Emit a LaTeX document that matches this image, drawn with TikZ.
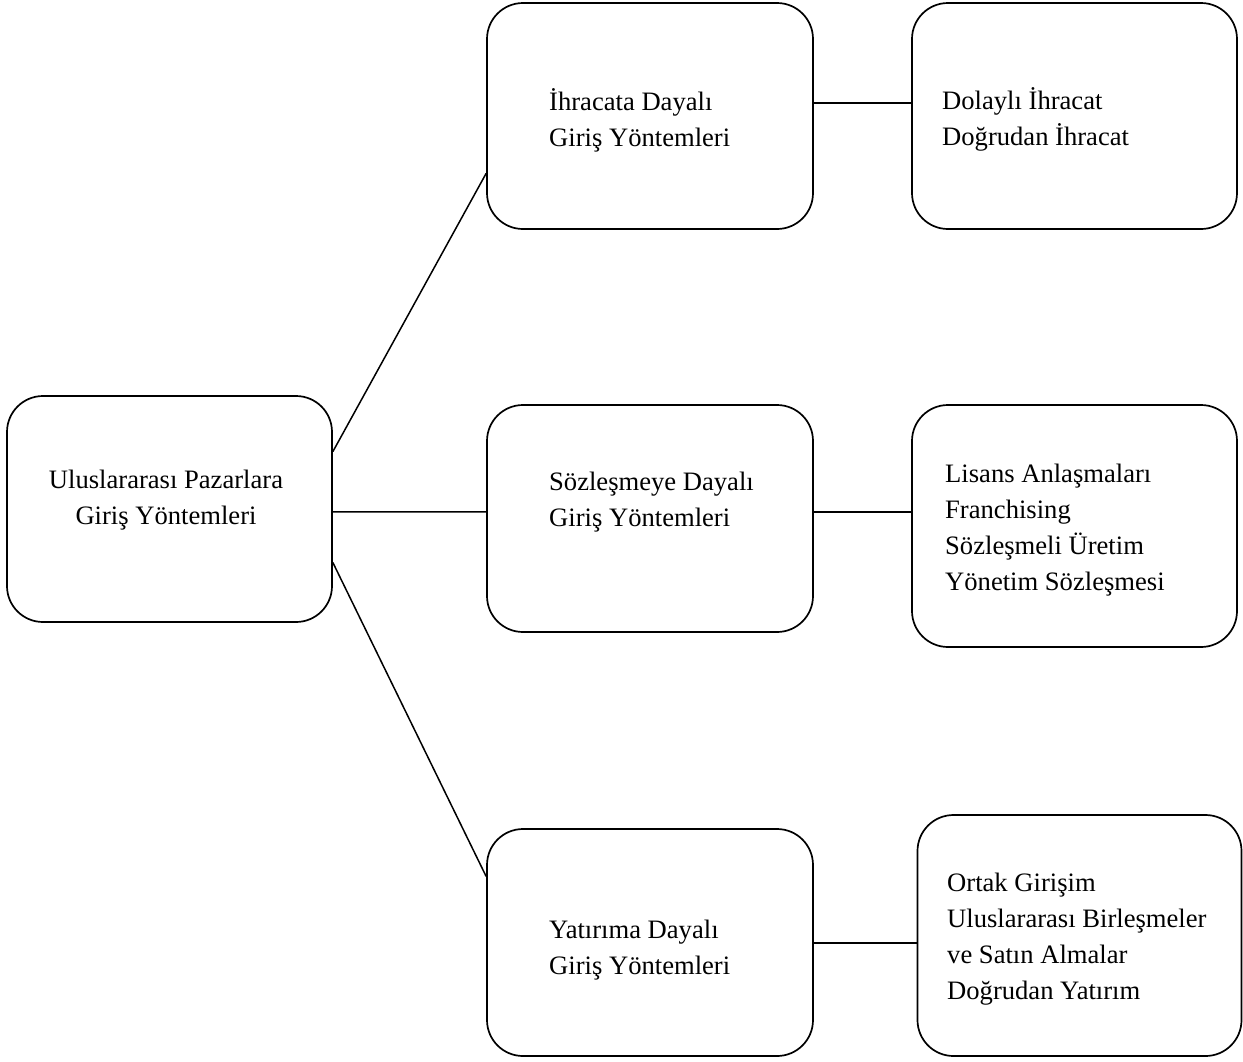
\documentclass[tikz,border=0pt]{standalone}
\usepackage{fontspec}
\setmainfont{Liberation Serif}
\usetikzlibrary{calc}
\tikzset{
  box/.style={draw, line width=1.7pt, rounded corners=36pt, rectangle, inner sep=0pt},
  txt/.style={inner sep=0pt, font=\fontsize{26.6}{36}\selectfont},
  conn/.style={line width=1.5pt}
}
\begin{document}
\begin{tikzpicture}[x=1pt,y=-1pt]
\useasboundingbox (0,0) rectangle (1243,1061);
% boxes
\node[box, minimum width=325pt, minimum height=226pt] (L)  at (169.5,509) {};
\node[box, minimum width=326pt, minimum height=226pt] (M1) at (650,116) {};
\node[box, minimum width=326pt, minimum height=227pt] (M2) at (650,518.5) {};
\node[box, minimum width=326pt, minimum height=227pt] (M3) at (650,942.5) {};
\node[box, minimum width=325pt, minimum height=226pt] (R1) at (1074.5,116) {};
\node[box, minimum width=325pt, minimum height=242pt] (R2) at (1074.5,526) {};
\node[box, minimum width=324pt, minimum height=241pt] (R3) at (1079.5,935.5) {};
% texts
\node[txt, align=center] (tL) at (166,500) {Uluslararası Pazarlara\\Giriş Yöntemleri};
\node[txt, align=left, anchor=west] (tM1) at (549,120) {İhracata Dayalı\\Giriş Yöntemleri};
\node[txt, align=left, anchor=west] (tM2) at (549,502) {Sözleşmeye Dayalı\\Giriş Yöntemleri};
\node[txt, align=left, anchor=west] (tM3) at (549,950) {Yatırıma Dayalı\\Giriş Yöntemleri};
\node[txt, align=left, anchor=west] (tR1) at (942,119) {Dolaylı İhracat\\Doğrudan İhracat};
\node[txt, align=left, anchor=west] (tR2) at (945,530) {Lisans Anlaşmaları\\Franchising\\Sözleşmeli Üretim\\Yönetim Sözleşmesi};
\node[txt, align=left, anchor=west] (tR3) at (947,939) {Ortak Girişim\\Uluslararası Birleşmeler\\ve Satın Almalar\\Doğrudan Yatırım};
% connectors
\draw[conn] ($(L.north east)!0.248!(L.south east)$) -- ($(M1.north west)!0.752!(M1.south west)$);
\draw[conn] ($(L.north east)!0.513!(L.south east)$) -- ($(M2.north west)!0.471!(M2.south west)$);
\draw[conn] ($(L.north east)!0.735!(L.south east)$) -- ($(M3.north west)!0.211!(M3.south west)$);
\draw[conn] (M1.east |- 0,103) -- (R1.west |- 0,103);
\draw[conn] (M2.east |- 0,512) -- (R2.west |- 0,512);
\draw[conn] (M3.east |- 0,943) -- (R3.west |- 0,943);
\end{tikzpicture}
\end{document}
